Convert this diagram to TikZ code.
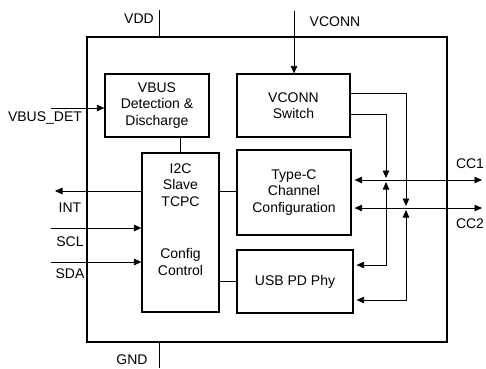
\documentclass[tikz,border=0pt]{standalone}
\usepackage{fontspec}
\setmainfont{Liberation Sans}
\usetikzlibrary{arrows.meta}
\begin{document}
\begin{tikzpicture}[x=1pt,y=-1pt,
  every node/.style={font=\fontsize{14}{16.5}\selectfont, inner sep=0pt},
  blk/.style={draw, line width=1.2pt, rectangle, align=center},
  lbl/.style={align=center},
  conn/.style={line width=0.8pt},
  arr/.style={conn, -{Triangle[length=7.5pt,width=6.5pt]}},
  darr/.style={conn, {Triangle[length=7.5pt,width=6.5pt]}-{Triangle[length=7.5pt,width=6.5pt]}}]
\useasboundingbox (0,0) rectangle (486,368);
% boxes
\node[blk, minimum width=360pt, minimum height=305pt] (chip) at (267,189.5) {};
\node[blk, minimum width=104pt, minimum height=63pt] (vbus) at (157,105.5) {VBUS\\Detection \&\\Discharge};
\node[blk, minimum width=113pt, minimum height=63pt] (vsw) at (293.5,105.5) {VCONN\\Switch};
\node[blk, minimum width=77pt, minimum height=159pt] (i2c) at (180.5,232.5) {};
\node[lbl] (i2ctop) at (180.5,185) {I2C\\Slave\\TCPC};
\node[lbl] (i2cbot) at (180.5,262) {Config\\Control};
\node[blk, minimum width=114pt, minimum height=85pt] (tc) at (294,192.5) {Type-C\\Channel\\Configuration};
\node[blk, minimum width=116pt, minimum height=63pt] (pd) at (295,281.5) {USB PD Phy};
% labels
\node (lvdd) at (139,19) {VDD};
\node (lvconn) at (335,22) {VCONN};
\node (lvbdet) at (45,118) {VBUS\_DET};
\node (lint) at (70,208) {INT};
\node (lscl) at (70,242) {SCL};
\node (lsda) at (70,274) {SDA};
\node (lgnd) at (132,360) {GND};
\node (lcc1) at (470,164) {CC1};
\node (lcc2) at (470,224) {CC2};
% coordinates
\coordinate (vddtop) at (159,10);
\coordinate (gndbot) at (159,368);
\coordinate (vconntop) at (294,11);
\coordinate (vbdet) at (51,108);
\coordinate (intend) at (55,191);
\coordinate (sclin) at (51,228);
\coordinate (sdain) at (51,262);
\coordinate (cc1) at (482,180);
\coordinate (cc2) at (482,208);
\coordinate (ja) at (386,180);
\coordinate (jb) at (406,208);
\coordinate (v1) at (406,93);
\coordinate (v2) at (386,114);
\coordinate (p1) at (386,265);
\coordinate (p2) at (406,300);
% connectors
\draw[conn] (vddtop) -- (vddtop |- chip.north);
\draw[conn] (chip.south -| gndbot) -- (gndbot);
\draw[arr] (vconntop) -- (vconntop |- vsw.north);
\draw[arr] (vbdet) -- (vbdet -| vbus.west);
\draw[conn] (i2c.north) -- (i2c.north |- vbus.south);
\draw[conn] (i2c.east |- intend) -- (tc.west |- intend);
\draw[arr] (i2c.west |- intend) -- (intend);
\draw[arr] (sclin) -- (sclin -| i2c.west);
\draw[arr] (sdain) -- (sdain -| i2c.west);
\draw[conn] (i2c.east |- pd.center) -- (pd.west);
\draw[darr, shorten <=3pt] (tc.east |- cc1) -- (cc1);
\draw[darr, shorten <=3pt] (tc.east |- cc2) -- (cc2);
\draw[arr] (vsw.east |- v1) -- (v1) -- ([yshift=2pt]jb);
\draw[arr] (vsw.east |- v2) -- (v2) -- ([yshift=2pt]ja);
\draw[darr, shorten >=3pt] ([yshift=-2pt]ja) -- (p1) -- (pd.east |- p1);
\draw[darr, shorten >=3pt] ([yshift=-2pt]jb) -- (p2) -- (pd.east |- p2);
\end{tikzpicture}
\end{document}
